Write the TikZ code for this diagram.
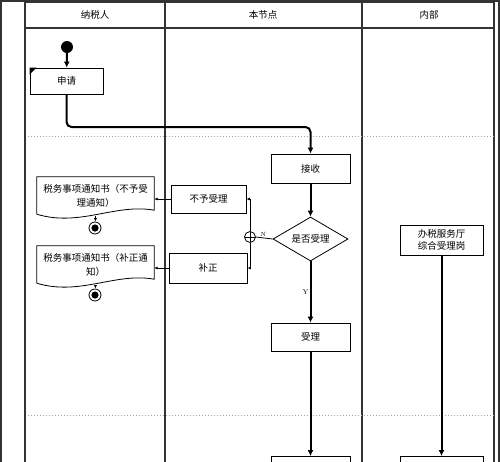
\documentclass[tikz,border=0pt]{standalone}
\usepackage{fontspec}
\newfontfamily\cjk{Noto Sans CJK SC}
\usetikzlibrary{shapes.geometric,arrows.meta,positioning}

\begin{document}
\begin{tikzpicture}[x=1pt, y=-1pt, >=Stealth,
    every node/.style={font=\cjk\fontsize{9.5}{14}\selectfont},
    box/.style={rectangle, draw, fill=white, line width=0.8pt, minimum width=79, minimum height=29, inner sep=2pt, align=center},
    docnode/.style={rectangle, minimum width=117, minimum height=37, align=center, inner sep=1pt},
    decision/.style={diamond, draw, fill=white, line width=0.8pt, minimum width=75, minimum height=44, inner sep=0pt, aspect=1.7},
    startpt/.style={circle, fill=black, minimum size=12, inner sep=0pt},
    endpt/.style={circle, draw, line width=0.8pt, fill=white, minimum size=12, inner sep=0pt,
        path picture={\fill[black] (path picture bounding box.center) circle (3.6pt);}},
    mergept/.style={circle, draw, line width=0.8pt, fill=white, minimum size=11, inner sep=0pt,
        path picture={\draw[line width=0.8pt] (path picture bounding box.north) -- (path picture bounding box.south)
            (path picture bounding box.west) -- (path picture bounding box.east);}},
    flow/.style={line width=2pt, -{Latex[length=6pt, width=6pt]}},
    link/.style={line width=0.8pt, -{Latex[length=3.5pt, width=3pt]}},
    lane/.style={line width=1.2pt, draw=black!80},
    phase/.style={dotted, line width=1pt, draw=black!35},
    lbl/.style={font=\fontsize{7}{8}\selectfont, inner sep=1pt}]
    \useasboundingbox (0,0) rectangle (500,461);
    \clip (0,0) rectangle (500,461);

    % Pool and lanes
    \draw[lane] (1,1) rectangle (499,475);
    \draw[lane] (25,2) rectangle (494,475);
    \draw[lane] (25,28) -- (494,28);
    \draw[lane] (165,2) -- (165,475);
    \draw[lane] (362,2) -- (362,475);
    \draw[phase] (28,136) -- (494,136);
    \draw[phase] (28,415) -- (494,415);
    \node (taxpayer) at (95,15) {纳税人};
    \node (thisnode) at (263,15) {本节点};
    \node (internal) at (429,15) {内部};

    % Nodes
    \node (start) [startpt] at (67,47) {};
    \node (apply) [box, minimum width=73, minimum height=26] at (66.5,81) {申请};
    \node (receive) [box] at (310.5,168.5) {接收};
    \node (check) [decision] at (310.5,239) {是否受理};
    \node (accept) [box, minimum height=28] at (310.5,337) {受理};
    \node (acceptnext) [box] at (310.5,471) {};
    \node (hall) [box, minimum width=83, minimum height=30, inner sep=1pt, font=\cjk\fontsize{9.5}{12}\selectfont] at (441.5,240) {办税服务厅\\综合受理岗};
    \node (hallnext) [box, minimum width=83] at (441.5,471) {};
    \node (reject) [box, minimum width=75, minimum height=28] at (208.5,199) {不予受理};
    \node (amend) [box, minimum width=78, minimum height=30] at (208,268) {补正};
    \node (merge) [mergept] at (250,237) {};
    \node (doc1) [docnode] at (95.5,195.5) {税务事项通知书（不予受\\理通知）};
    \node (doc2) [docnode] at (95.5,264.5) {税务事项通知书（补正通\\知）};
    \node (end1) [endpt] at (95,228) {};
    \node (end2) [endpt] at (95,295) {};
    \fill (apply.north west) -- ++(7,0) -- ++(-7,7) -- cycle;
    \foreach \d in {doc1,doc2}
        \draw[line width=0.8pt] (\d.south west) -- (\d.north west) -- (\d.north east) -- ([yshift=4pt]\d.south east)
            .. controls +(-39,-7) and +(43,13) .. (\d.south west);

    % Edges
    \coordinate (bend) at (310.5,127);
    \draw[flow] (start) -- (apply);
    \draw[flow, rounded corners=5pt] (apply.south) |- (bend) -- (receive.north);
    \draw[flow] (receive) -- (check);
    \draw[flow] (check) -- node[lbl, left, pos=0.5] {Y} (accept);
    \draw[flow] (accept) -- (acceptnext);
    \draw[flow] (hall) -- (hallnext);
    \draw[line width=0.8pt] (check.west) -- node[lbl, above, pos=0.55, font=\fontsize{6}{7}\selectfont] {N} (merge.east);
    \draw[link] (merge.north) |- (reject.east);
    \draw[link] (merge.south) |- (amend.east);
    \draw[link] (reject.west) -- (reject.west -| doc1.east);
    \draw[link] (amend.west) -- (amend.west -| doc2.east);
    \draw[link] ([yshift=-2pt]doc1.south) -- (end1);
    \draw[link] ([yshift=-2pt]doc2.south) -- (end2);
\end{tikzpicture}
\end{document}
